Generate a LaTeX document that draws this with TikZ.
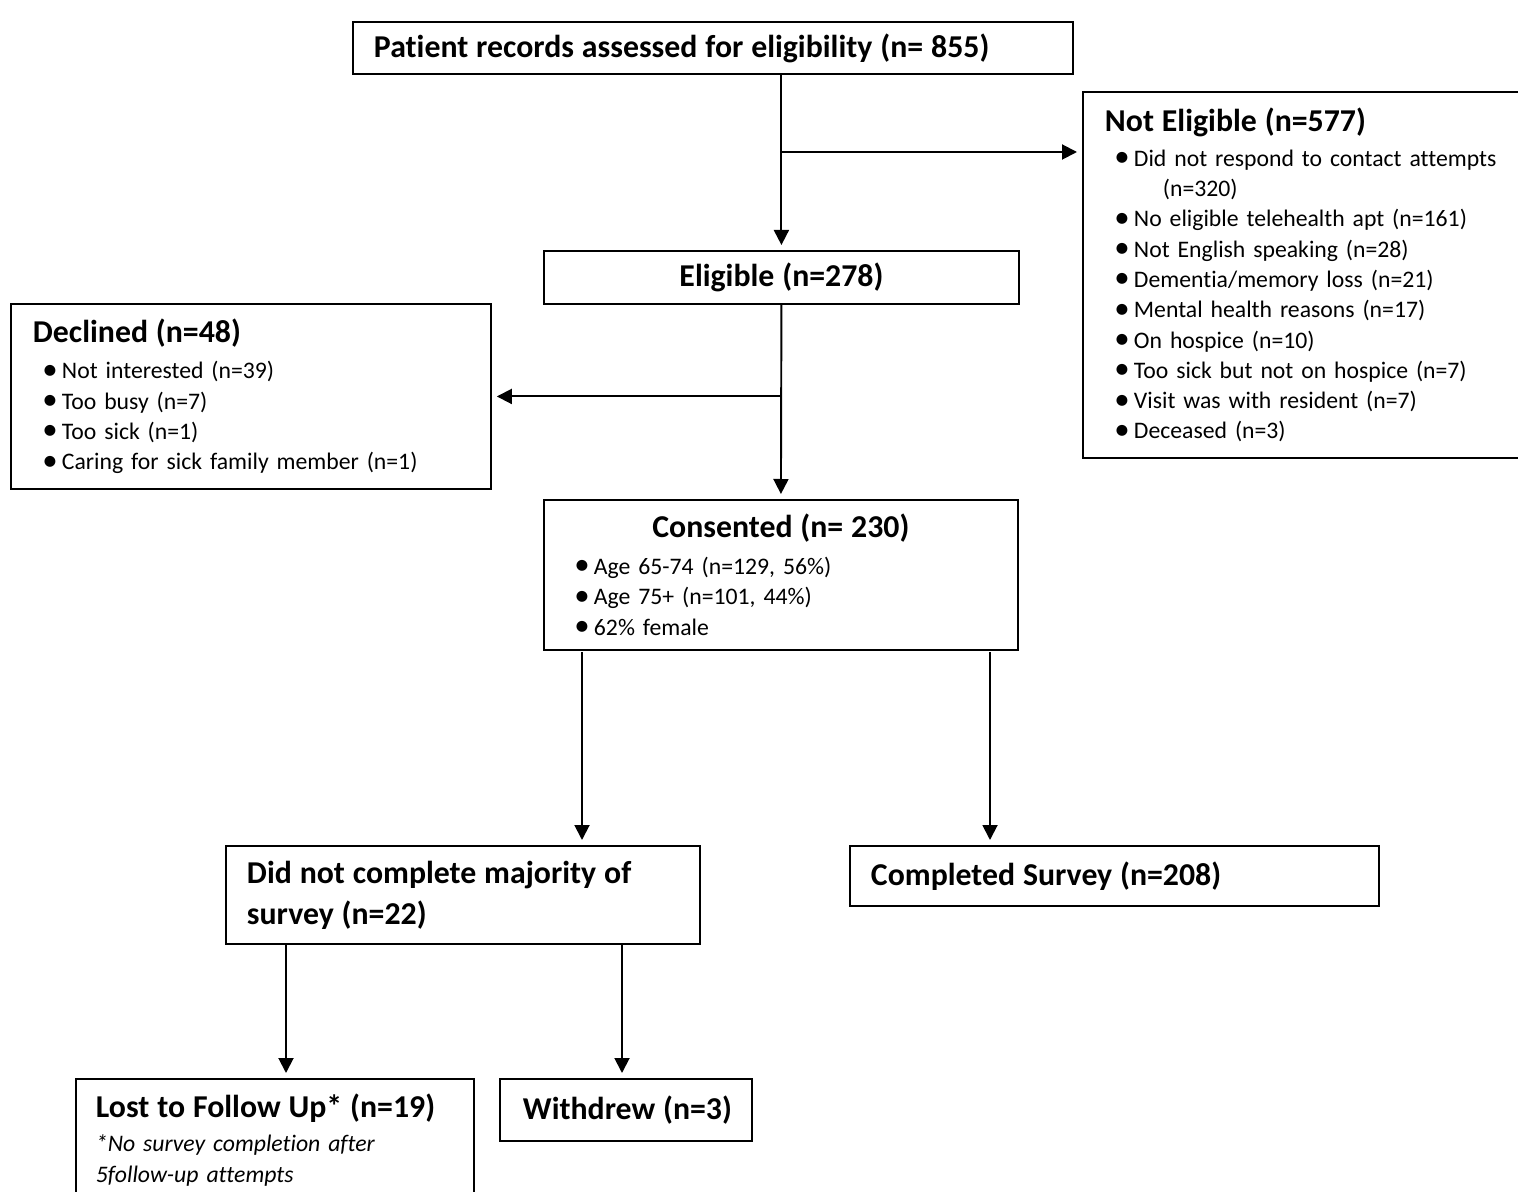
\documentclass[tikz,border=0pt]{standalone}
\usepackage{fontspec}
\setmainfont{Carlito}[Ligatures=NoCommon]
\usetikzlibrary{positioning, arrows.meta}
\newcommand{\titel}{\fontsize{18.1}{22.8}\selectfont\bfseries}
\newcommand{\pkt}{\makebox[0.39cm][l]{\raisebox{-0.3pt}{\scalebox{1.3}{\textbullet}}}}
\tikzset{
    kasten/.style={
        draw=black,          % schwarze Kontur
        fill=white,
        line width=1.1pt,
        anchor=north west,   % Kasten wird an der linken oberen Ecke gesetzt
        align=left,
        inner xsep=0.42cm,
        inner ysep=0pt,
        font=\fontsize{13.5}{17.25}\selectfont
    },
    pfeil/.style={
        line width=1.1pt,
        -{Triangle[length=0.3cm, width=0.3cm]},
        shorten >=0.1cm      % kleiner Abstand vor dem Kasten
    }
}

\begin{document}
\begin{tikzpicture}[x=0.02cm, y=-0.02cm]

    % Bildausschnitt wie im Original (rechter und unterer Rand abgeschnitten)
    \useasboundingbox (0,0) rectangle (1518,1192);
    \clip (0,0) rectangle (1518,1192);

    % Kaesten
    \node[kasten, minimum width=14.4cm, minimum height=1.04cm, text width=13.56cm] (akten) at (352,21)
        {\titel Patient records assessed for eligibility (n= 855)};

    \node[kasten, minimum width=9.2cm, minimum height=7.32cm, text width=8.32cm, inner xsep=0.44cm] (nicht) at (1082,91) {
        {\titel Not Eligible (n=577)}\\[2.7pt]
        \hspace*{0.19cm}\pkt Did not respond to contact attempts\\
        \hspace*{1.16cm}(n=320)\\
        \hspace*{0.19cm}\pkt No eligible telehealth apt (n=161)\\
        \hspace*{0.19cm}\pkt Not English speaking (n=28)\\
        \hspace*{0.19cm}\pkt Dementia/memory loss (n=21)\\
        \hspace*{0.19cm}\pkt Mental health reasons (n=17)\\
        \hspace*{0.19cm}\pkt On hospice (n=10)\\
        \hspace*{0.19cm}\pkt Too sick but not on hospice (n=7)\\
        \hspace*{0.19cm}\pkt Visit was with resident (n=7)\\
        \hspace*{0.19cm}\pkt Deceased (n=3)};

    \node[kasten, minimum width=9.5cm, minimum height=1.06cm, text width=8.66cm, align=center] (geeignet) at (543,250)
        {\titel Eligible (n=278)};

    \node[kasten, minimum width=9.6cm, minimum height=3.7cm, text width=8.72cm, inner xsep=0.44cm] (abgelehnt) at (10,303) {
        {\titel Declined (n=48)}\\[3.2pt]
        \hspace*{0.19cm}\pkt Not interested (n=39)\\
        \hspace*{0.19cm}\pkt Too busy (n=7)\\
        \hspace*{0.19cm}\pkt Too sick (n=1)\\
        \hspace*{0.19cm}\pkt Caring for sick family member (n=1)};

    \node[kasten, minimum width=9.48cm, minimum height=3.0cm, text width=8.88cm, inner xsep=0.3cm] (eingew) at (543,499) {
        \makebox[8.88cm]{\titel Consented (n= 230)}\\[3.5pt]
        \hspace*{0.31cm}\pkt Age 65-74 (n=129, 56\%)\\
        \hspace*{0.31cm}\pkt Age 75+ (n=101, 44\%)\\
        \hspace*{0.31cm}\pkt 62\% female};

    \node[kasten, minimum width=9.48cm, minimum height=1.96cm, text width=8.64cm] (unvollst) at (225,845)
        {\titel Did not complete majority of\\[6pt] survey (n=22)};

    \node[kasten, minimum width=10.58cm, minimum height=1.2cm, text width=9.74cm] (abgeschl) at (849,845)
        {\titel Completed Survey (n=208)};

    \node[kasten, minimum width=7.96cm, minimum height=2.44cm, text width=7.16cm, inner xsep=0.4cm] (verloren) at (75,1078) {
        {\titel Lost to Follow Up* (n=19)}\\[2.3pt]
        \textit{*No survey completion after}\\
        \textit{5follow-up attempts}};

    \node[kasten, minimum width=5.04cm, minimum height=1.24cm, text width=4.12cm, inner xsep=0.46cm] (zurueck) at (499,1078)
        {\titel \mbox{Withdrew (n=3)}};

    % Verbindungen
    \coordinate (abzw1) at (780.5,152);
    \draw[pfeil] (geeignet.north |- akten.south) -- (geeignet.north);
    \draw[pfeil] (abzw1) -- (abzw1 -| nicht.west);

    \draw[pfeil] (geeignet.south) -- (eingew.north);
    \draw[pfeil] (abgelehnt.east -| geeignet.south) -- (abgelehnt.east);

    \coordinate (links) at (582,652);
    \coordinate (rechts) at (990,652);
    \draw[pfeil] (links) -- (links |- unvollst.north);
    \draw[pfeil] (rechts) -- (rechts |- abgeschl.north);

    \coordinate (links2) at (286,943);
    \coordinate (rechts2) at (622,943);
    \draw[pfeil] (links2) -- (links2 |- verloren.north);
    \draw[pfeil] (rechts2) -- (rechts2 |- zurueck.north);

\end{tikzpicture}
\end{document}
